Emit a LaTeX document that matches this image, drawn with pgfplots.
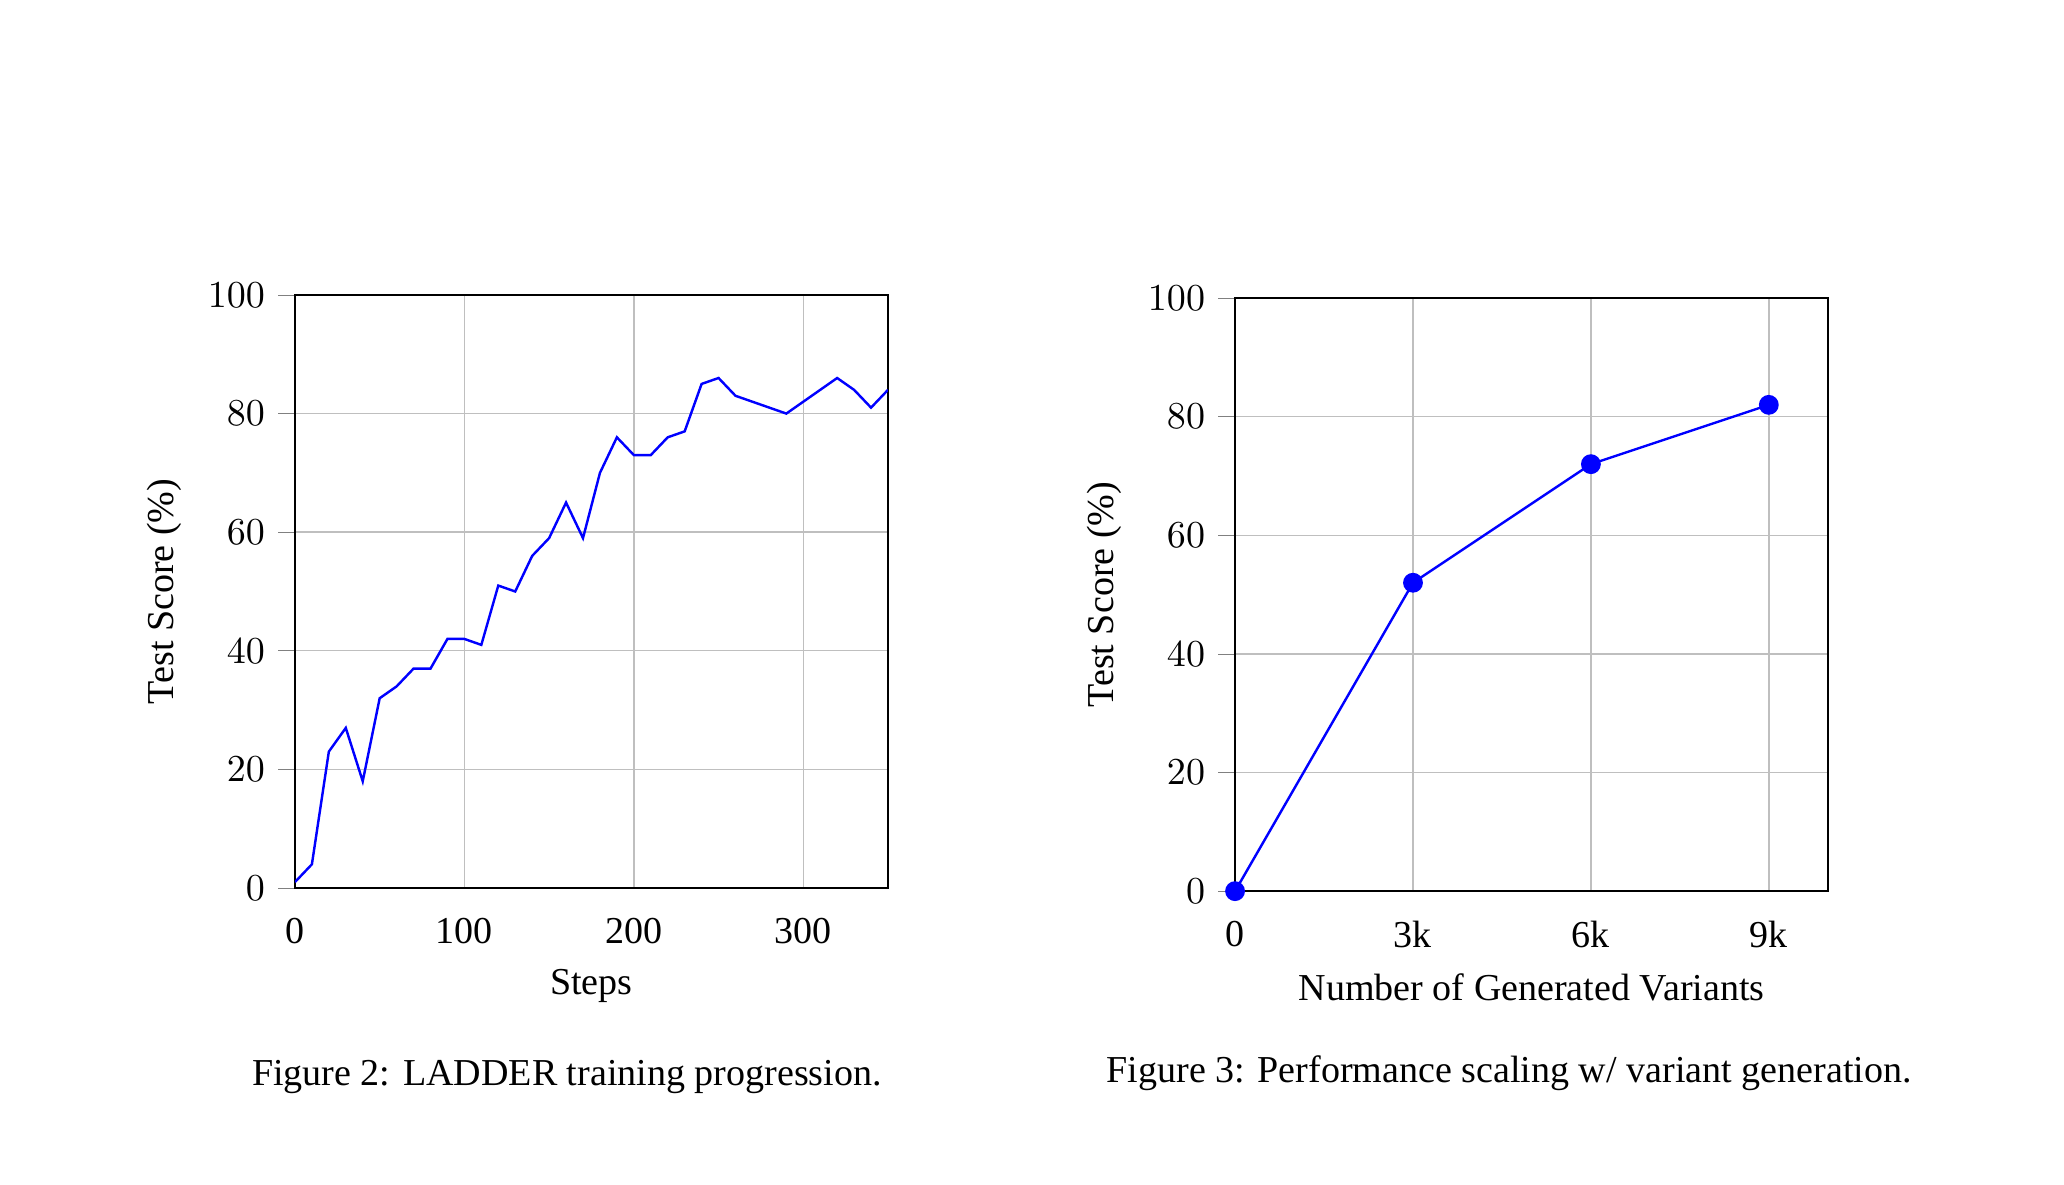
\documentclass[11pt,border=0pt]{standalone}
\usepackage{fontspec}
\setmainfont{Liberation Serif}
\usepackage{pgfplots}
\pgfplotsset{compat=1.18}

\pgfplotsset{
  ladderstyle/.style={
    scale only axis,
    width=170.7pt, height=170.7pt,
    ymin=0, ymax=100,
    ytick={0,20,40,60,80,100},
    ymajorgrids=true, xmajorgrids=true,
    ytick pos=left,
    tick align=outside,
    major tick length=4.8pt,
    xtick style={draw=none},
    scaled x ticks=false,
    ylabel={Test Score (\%)},
    anchor=south west,
  },
}

\begin{document}
\begin{tikzpicture}
\path[use as bounding box] (0,0) rectangle (594.1pt,-340.8pt);

\begin{axis}[
    ladderstyle,
    at={(84.9pt,-255.6pt)},
    xmin=0, xmax=350,
    xtick={0,100,200,300},
    xticklabels={0,100,200,300},
    xlabel={Steps},
]
\addplot[color=blue, line width=0.7pt] coordinates {
    (0,1)(10,4)(20,23)(30,27)(40,18)(50,32)(60,34)(70,37)(80,37)(90,42)
    (100,42)(110,41)(120,51)(130,50)(140,56)(150,59)(160,65)(170,59)(180,70)(190,76)
    (200,73)(210,73)(220,76)(230,77)(240,85)(250,86)(260,83)(270,82)(280,81)(290,80)
    (300,82)(310,84)(320,86)(330,84)(340,81)(350,84)
};
\end{axis}

\begin{axis}[
    ladderstyle,
    at={(355.5pt,-256.5pt)},
    xmin=0, xmax=10000,
    xtick={0,3000,6000,9000},
    xticklabels={0,3k,6k,9k},
    xlabel={Number of Generated Variants},
]
\addplot[color=blue, line width=0.7pt, mark=*, mark size=2.5pt] coordinates {
    (0,0)(3000,52)(6000,72)(9000,82)
};
\end{axis}

\node at (163.2pt,-310.1pt) {Figure 2: LADDER training progression.};
\node at (434.4pt,-308.9pt) {Figure 3: Performance scaling w/ variant generation.};
\end{tikzpicture}
\end{document}
